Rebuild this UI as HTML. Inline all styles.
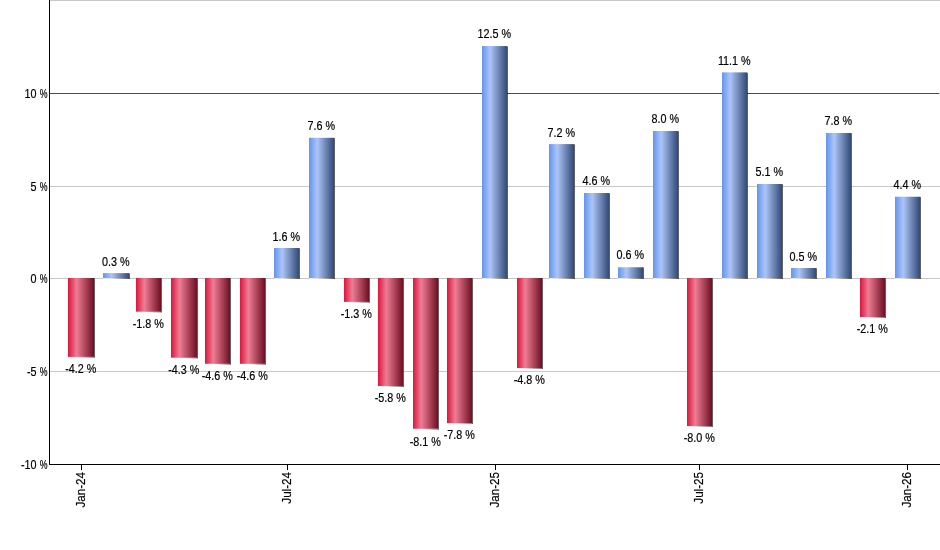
<!DOCTYPE html>
<html><head><meta charset="utf-8"><title>Monthly returns</title>
<style>
html,body{margin:0;padding:0;background:#fff;}
body{width:940px;height:550px;overflow:hidden;}
svg{display:block;}
text{font-family:"Liberation Sans",Arial,sans-serif;font-size:12px;fill:#000;stroke:#000;stroke-width:0.18px;}
</style></head><body>
<svg width="940" height="550" viewBox="0 0 940 550">
<defs>
<linearGradient id="gr" x1="0" y1="0" x2="1" y2="0">
<stop offset="0" stop-color="#dc143c"/>
<stop offset="0.33" stop-color="#ee7d94"/>
<stop offset="1" stop-color="#6e0f23"/>
</linearGradient>
<linearGradient id="gb" x1="0" y1="0" x2="1" y2="0">
<stop offset="0" stop-color="#6394ef"/>
<stop offset="0.33" stop-color="#acc5f7"/>
<stop offset="1" stop-color="#334a77"/>
</linearGradient>
<linearGradient id="gs" x1="0" y1="0" x2="1" y2="0">
<stop offset="0" stop-color="#f4f2ee"/>
<stop offset="0.35" stop-color="#e6e2da"/>
<stop offset="0.7" stop-color="#9a978f"/>
<stop offset="1" stop-color="#4a4a4a"/>
</linearGradient>
</defs>
<rect x="0" y="0" width="940" height="550" fill="#fff"/>

<rect x="50" y="0" width="890" height="1" fill="#c8c8c8"/>
<rect x="50" y="186" width="890" height="1" fill="#c8c8c8"/>
<rect x="50" y="278" width="890" height="1" fill="#c8c8c8"/>
<rect x="50" y="371" width="890" height="1" fill="#c8c8c8"/>
<rect x="50" y="93" width="889" height="1" fill="#008000"/>
<rect x="939" y="93" width="1" height="1" fill="#c8c8c8"/>
<polygon points="94,278.00 95,278.60 95,357.80 94,357.80" fill="#000" fill-opacity="0.62"/>
<polygon points="74,356.90 94,356.90 94,357.80" fill="#000" fill-opacity="0.5"/>
<rect x="68" y="278.00" width="26" height="78.90" fill="url(#gr)"/>
<text transform="translate(80.8,373.0) scale(0.9,1)" text-anchor="middle">-4.2 %</text>
<polygon points="129,273.10 130,273.70 130,278.90 129,278.90" fill="#000" fill-opacity="0.62"/>
<rect x="103" y="278" width="26" height="0.9" fill="url(#gs)"/>
<rect x="103" y="273.10" width="26" height="4.90" fill="url(#gb)"/>
<text transform="translate(115.8,266.0) scale(0.9,1)" text-anchor="middle">0.3 %</text>
<polygon points="161,278.00 162,278.60 162,312.60 161,312.60" fill="#000" fill-opacity="0.62"/>
<polygon points="142,311.70 161,311.70 161,312.60" fill="#000" fill-opacity="0.5"/>
<rect x="136" y="278.00" width="25" height="33.70" fill="url(#gr)"/>
<text transform="translate(148.3,328.0) scale(0.9,1)" text-anchor="middle">-1.8 %</text>
<polygon points="197,278.00 198,278.60 198,358.60 197,358.60" fill="#000" fill-opacity="0.62"/>
<polygon points="177,357.70 197,357.70 197,358.60" fill="#000" fill-opacity="0.5"/>
<rect x="171" y="278.00" width="26" height="79.70" fill="url(#gr)"/>
<text transform="translate(183.8,374.0) scale(0.9,1)" text-anchor="middle">-4.3 %</text>
<polygon points="230,278.00 231,278.60 231,364.70 230,364.70" fill="#000" fill-opacity="0.62"/>
<polygon points="211,363.80 230,363.80 230,364.70" fill="#000" fill-opacity="0.5"/>
<rect x="205" y="278.00" width="25" height="85.80" fill="url(#gr)"/>
<text transform="translate(217.3,380.0) scale(0.9,1)" text-anchor="middle">-4.6 %</text>
<polygon points="265,278.00 266,278.60 266,364.70 265,364.70" fill="#000" fill-opacity="0.62"/>
<polygon points="246,363.80 265,363.80 265,364.70" fill="#000" fill-opacity="0.5"/>
<rect x="240" y="278.00" width="25" height="85.80" fill="url(#gr)"/>
<text transform="translate(252.3,380.0) scale(0.9,1)" text-anchor="middle">-4.6 %</text>
<polygon points="299,248.00 300,248.60 300,278.90 299,278.90" fill="#000" fill-opacity="0.62"/>
<rect x="274" y="278" width="25" height="0.9" fill="url(#gs)"/>
<rect x="274" y="248.00" width="25" height="30.00" fill="url(#gb)"/>
<text transform="translate(286.3,241.0) scale(0.9,1)" text-anchor="middle">1.6 %</text>
<polygon points="334,137.80 335,138.40 335,278.90 334,278.90" fill="#000" fill-opacity="0.62"/>
<rect x="309" y="278" width="25" height="0.9" fill="url(#gs)"/>
<rect x="309" y="137.80" width="25" height="140.20" fill="url(#gb)"/>
<text transform="translate(321.3,130.0) scale(0.9,1)" text-anchor="middle">7.6 %</text>
<polygon points="369,278.00 370,278.60 370,302.80 369,302.80" fill="#000" fill-opacity="0.62"/>
<polygon points="350,301.90 369,301.90 369,302.80" fill="#000" fill-opacity="0.5"/>
<rect x="344" y="278.00" width="25" height="23.90" fill="url(#gr)"/>
<text transform="translate(356.3,318.0) scale(0.9,1)" text-anchor="middle">-1.3 %</text>
<polygon points="403,278.00 404,278.60 404,386.95 403,386.95" fill="#000" fill-opacity="0.62"/>
<polygon points="384,386.05 403,386.05 403,386.95" fill="#000" fill-opacity="0.5"/>
<rect x="378" y="278.00" width="25" height="108.05" fill="url(#gr)"/>
<text transform="translate(390.3,402.0) scale(0.9,1)" text-anchor="middle">-5.8 %</text>
<polygon points="438,278.00 439,278.60 439,429.64 438,429.64" fill="#000" fill-opacity="0.62"/>
<polygon points="419,428.74 438,428.74 438,429.64" fill="#000" fill-opacity="0.5"/>
<rect x="413" y="278.00" width="25" height="150.74" fill="url(#gr)"/>
<text transform="translate(425.3,446.0) scale(0.9,1)" text-anchor="middle">-8.1 %</text>
<polygon points="472,278.00 473,278.60 473,424.07 472,424.07" fill="#000" fill-opacity="0.62"/>
<polygon points="453,423.17 472,423.17 472,424.07" fill="#000" fill-opacity="0.5"/>
<rect x="447" y="278.00" width="25" height="145.17" fill="url(#gr)"/>
<text transform="translate(459.3,439.0) scale(0.9,1)" text-anchor="middle">-7.8 %</text>
<polygon points="507,46.05 508,46.65 508,278.90 507,278.90" fill="#000" fill-opacity="0.62"/>
<rect x="482" y="278" width="25" height="0.9" fill="url(#gs)"/>
<rect x="482" y="46.05" width="25" height="231.95" fill="url(#gb)"/>
<text transform="translate(494.3,38.0) scale(0.9,1)" text-anchor="middle">12.5 %</text>
<polygon points="542,278.00 543,278.60 543,369.00 542,369.00" fill="#000" fill-opacity="0.62"/>
<polygon points="523,368.10 542,368.10 542,369.00" fill="#000" fill-opacity="0.5"/>
<rect x="517" y="278.00" width="25" height="90.10" fill="url(#gr)"/>
<text transform="translate(529.3,384.0) scale(0.9,1)" text-anchor="middle">-4.8 %</text>
<polygon points="574,144.10 575,144.70 575,278.90 574,278.90" fill="#000" fill-opacity="0.62"/>
<rect x="549" y="278" width="25" height="0.9" fill="url(#gs)"/>
<rect x="549" y="144.10" width="25" height="133.90" fill="url(#gb)"/>
<text transform="translate(561.3,137.0) scale(0.9,1)" text-anchor="middle">7.2 %</text>
<polygon points="609,193.02 610,193.62 610,278.90 609,278.90" fill="#000" fill-opacity="0.62"/>
<rect x="584" y="278" width="25" height="0.9" fill="url(#gs)"/>
<rect x="584" y="193.02" width="25" height="84.98" fill="url(#gb)"/>
<text transform="translate(596.3,185.0) scale(0.9,1)" text-anchor="middle">4.6 %</text>
<polygon points="643,267.26 644,267.86 644,278.90 643,278.90" fill="#000" fill-opacity="0.62"/>
<rect x="618" y="278" width="25" height="0.9" fill="url(#gs)"/>
<rect x="618" y="267.26" width="25" height="10.74" fill="url(#gb)"/>
<text transform="translate(630.3,259.0) scale(0.9,1)" text-anchor="middle">0.6 %</text>
<polygon points="678,131.00 679,131.60 679,278.90 678,278.90" fill="#000" fill-opacity="0.62"/>
<rect x="653" y="278" width="25" height="0.9" fill="url(#gs)"/>
<rect x="653" y="131.00" width="25" height="147.00" fill="url(#gb)"/>
<text transform="translate(665.3,123.0) scale(0.9,1)" text-anchor="middle">8.0 %</text>
<polygon points="712,278.00 713,278.60 713,427.00 712,427.00" fill="#000" fill-opacity="0.62"/>
<polygon points="693,426.10 712,426.10 712,427.00" fill="#000" fill-opacity="0.5"/>
<rect x="687" y="278.00" width="25" height="148.10" fill="url(#gr)"/>
<text transform="translate(699.3,442.0) scale(0.9,1)" text-anchor="middle">-8.0 %</text>
<polygon points="747,72.38 748,72.98 748,278.90 747,278.90" fill="#000" fill-opacity="0.62"/>
<rect x="722" y="278" width="25" height="0.9" fill="url(#gs)"/>
<rect x="722" y="72.38" width="25" height="205.62" fill="url(#gb)"/>
<text transform="translate(734.3,65.0) scale(0.9,1)" text-anchor="middle">11.1 %</text>
<polygon points="782,184.00 783,184.60 783,278.90 782,278.90" fill="#000" fill-opacity="0.62"/>
<rect x="757" y="278" width="25" height="0.9" fill="url(#gs)"/>
<rect x="757" y="184.00" width="25" height="94.00" fill="url(#gb)"/>
<text transform="translate(769.3,176.0) scale(0.9,1)" text-anchor="middle">5.1 %</text>
<polygon points="816,268.00 817,268.60 817,278.90 816,278.90" fill="#000" fill-opacity="0.62"/>
<rect x="791" y="278" width="25" height="0.9" fill="url(#gs)"/>
<rect x="791" y="268.00" width="25" height="10.00" fill="url(#gb)"/>
<text transform="translate(803.3,261.0) scale(0.9,1)" text-anchor="middle">0.5 %</text>
<polygon points="851,133.00 852,133.60 852,278.90 851,278.90" fill="#000" fill-opacity="0.62"/>
<rect x="826" y="278" width="25" height="0.9" fill="url(#gs)"/>
<rect x="826" y="133.00" width="25" height="145.00" fill="url(#gb)"/>
<text transform="translate(838.3,125.0) scale(0.9,1)" text-anchor="middle">7.8 %</text>
<polygon points="885,278.00 886,278.60 886,317.90 885,317.90" fill="#000" fill-opacity="0.62"/>
<polygon points="866,317.00 885,317.00 885,317.90" fill="#000" fill-opacity="0.5"/>
<rect x="860" y="278.00" width="25" height="39.00" fill="url(#gr)"/>
<text transform="translate(872.3,333.0) scale(0.9,1)" text-anchor="middle">-2.1 %</text>
<polygon points="920,196.74 921,197.34 921,278.90 920,278.90" fill="#000" fill-opacity="0.62"/>
<rect x="895" y="278" width="25" height="0.9" fill="url(#gs)"/>
<rect x="895" y="196.74" width="25" height="81.26" fill="url(#gb)"/>
<text transform="translate(907.3,189.0) scale(0.9,1)" text-anchor="middle">4.4 %</text>
<rect x="49" y="0" width="1" height="465" fill="#000"/>
<rect x="49" y="464" width="891" height="1" fill="#000"/>
<text transform="translate(36.6,97.8) scale(0.9,1)" text-anchor="end">10</text>
<text transform="translate(47.5,97.8) scale(0.73,1)" text-anchor="end">%</text>
<text transform="translate(36.6,190.8) scale(0.9,1)" text-anchor="end">5</text>
<text transform="translate(47.5,190.8) scale(0.73,1)" text-anchor="end">%</text>
<text transform="translate(36.6,282.8) scale(0.9,1)" text-anchor="end">0</text>
<text transform="translate(47.5,282.8) scale(0.73,1)" text-anchor="end">%</text>
<text transform="translate(36.6,375.8) scale(0.9,1)" text-anchor="end">-5</text>
<text transform="translate(47.5,375.8) scale(0.73,1)" text-anchor="end">%</text>
<text transform="translate(36.6,468.8) scale(0.9,1)" text-anchor="end">-10</text>
<text transform="translate(47.5,468.8) scale(0.73,1)" text-anchor="end">%</text>
<rect x="81" y="465" width="1" height="5" fill="#000"/>
<text transform="translate(84.8,472.0) rotate(-90) scale(0.97,1.08)" text-anchor="end">Jan-24</text>
<rect x="287" y="465" width="1" height="5" fill="#000"/>
<text transform="translate(290.8,472.0) rotate(-90) scale(0.97,1.08)" text-anchor="end">Jul-24</text>
<rect x="495" y="465" width="1" height="5" fill="#000"/>
<text transform="translate(498.8,472.0) rotate(-90) scale(0.97,1.08)" text-anchor="end">Jan-25</text>
<rect x="699" y="465" width="1" height="5" fill="#000"/>
<text transform="translate(702.8,472.0) rotate(-90) scale(0.97,1.08)" text-anchor="end">Jul-25</text>
<rect x="907" y="465" width="1" height="5" fill="#000"/>
<text transform="translate(910.8,472.0) rotate(-90) scale(0.97,1.08)" text-anchor="end">Jan-26</text>
</svg></body></html>
